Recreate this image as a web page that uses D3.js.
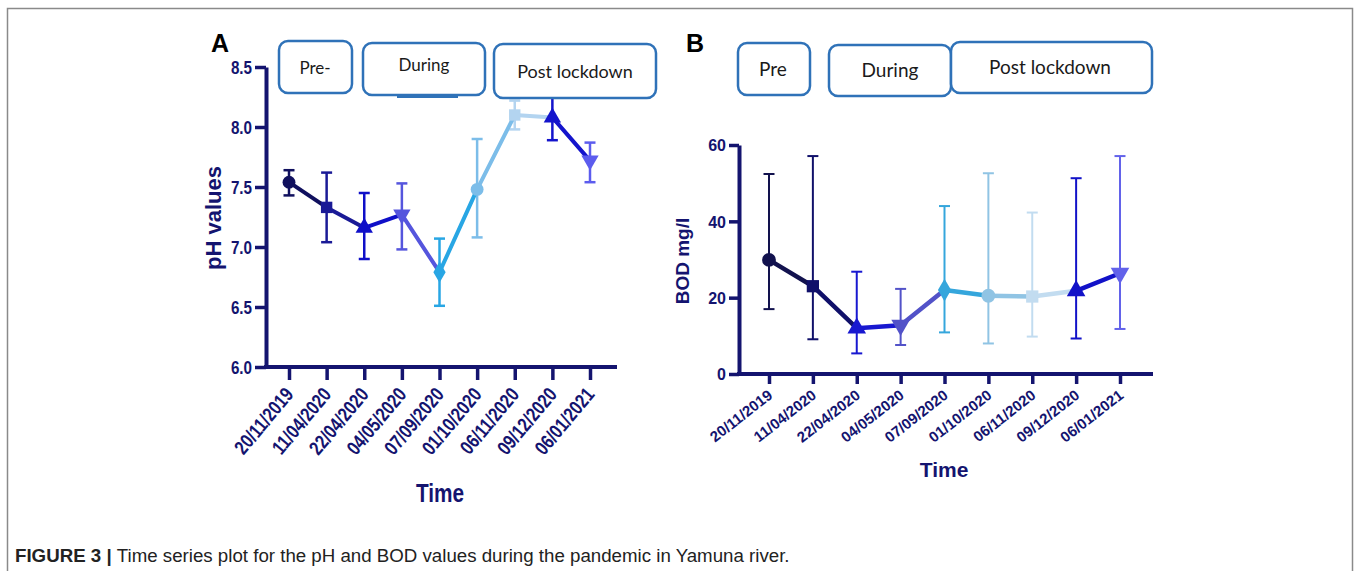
<!DOCTYPE html>
<html>
<head>
<meta charset="utf-8">
<script src="https://cdn.jsdelivr.net/npm/d3@7"></script>
<style>
  body { margin: 0; background: #fff; }
  svg { display: block; }
</style>
</head>
<body>
<div id="chart"></div>
<script>
// sampling dates shared by both panels
const dates = ["20/11/2019", "11/04/2020", "22/04/2020", "04/05/2020", "07/09/2020",
  "01/10/2020", "06/11/2020", "09/12/2020", "06/01/2021"];

// panel A: pH (mean with low / high error bar ends)
const phMean = [7.54, 7.33, 7.16, 7.27, 6.79, 7.48, 8.10, 8.08, 7.72];
const phLow = [7.43, 7.04, 6.90, 6.98, 6.51, 7.08, 7.98, 7.89, 7.54];
const phHigh = [7.64, 7.62, 7.45, 7.53, 7.07, 7.90, 8.22, 8.28, 7.87];
const phTicks = [6.0, 6.5, 7.0, 7.5, 8.0, 8.5];

// panel B: BOD mg/l
const bodMean = [29.9, 23.0, 12.0, 12.8, 22.0, 20.5, 20.3, 21.8, 26.4];
const bodLow = [17.0, 9.1, 5.4, 7.6, 10.9, 8.0, 9.8, 9.3, 11.8];
const bodHigh = [52.4, 57.1, 26.8, 22.3, 44.0, 52.6, 42.3, 51.3, 57.1];
const bodTicks = [0, 20, 40, 60];

const periodsA = ["Pre-", "During", "Post lockdown"];
const periodsB = ["Pre", "During", "Post lockdown"];

const symbols = ["circle", "square", "triangle", "triangle-down", "diamond",
  "circle", "square", "triangle", "triangle-down"];
const colorsA = ["#10105e", "#1a1a96", "#0f0fc8", "#5555dd", "#28a6e4", "#7cbde9", "#b3d4f0", "#1414cc", "#5c5cee"];
const colorsB = ["#12124e", "#10106a", "#1818d0", "#5252c8", "#35a6dc", "#90c4e4", "#c2dcf0", "#1212c8", "#6262ea"];

const W = 1355, H = 571;
const axisColor = "#14146f";
const boxColor = "#2f72b8";

const svg = d3.select("#chart").append("svg")
  .attr("width", W)
  .attr("height", H)
  .attr("viewBox", `0 0 ${W} ${H}`);

// figure frame
svg.append("rect")
  .attr("x", 7.5).attr("y", 8.5)
  .attr("width", 1345).attr("height", 620)
  .attr("fill", "none")
  .attr("stroke", "#8a8a8a")
  .attr("stroke-width", 1.5);

const symbolType = {
  "circle": d3.symbolCircle,
  "square": d3.symbolSquare,
  "triangle": d3.symbolTriangle,
  "triangle-down": d3.symbolTriangle,
  "diamond": d3.symbolDiamond
};

function drawPanel(p) {
  const g = svg.append("g");
  const x = d3.scalePoint().domain(dates).range(p.xRange);
  const y = d3.scaleLinear().domain(p.yDomain).range(p.yRange);
  const narrow = p.narrow;

  // y axis
  const yAxis = g.append("g")
    .attr("transform", `translate(${p.axisX},0)`)
    .call(d3.axisLeft(y)
      .tickValues(p.ticks)
      .tickFormat(p.fmt)
      .tickSize(p.yTickLen)
      .tickSizeOuter(0));
  yAxis.select(".domain")
    .attr("stroke", axisColor)
    .attr("stroke-width", p.axisW);
  yAxis.selectAll(".tick line")
    .attr("stroke", axisColor)
    .attr("stroke-width", p.tickW);
  yAxis.selectAll(".tick text")
    .attr("x", 0).attr("dy", "0.36em")
    .attr("transform", `translate(${-p.yTickLen - 3},0) scale(${narrow},1)`)
    .attr("fill", axisColor)
    .style("font-family", "'Liberation Sans', Arial, sans-serif")
    .style("font-weight", "bold")
    .style("font-size", p.yTickFont + "px");

  // x axis
  const xAxis = g.append("g")
    .attr("transform", `translate(0,${p.axisY})`)
    .call(d3.axisBottom(x).tickSize(p.xTickLen).tickSizeOuter(0));
  xAxis.select(".domain").remove();
  xAxis.selectAll(".tick line")
    .attr("stroke", axisColor)
    .attr("stroke-width", p.tickW);
  xAxis.selectAll(".tick text")
    .attr("x", 0).attr("y", 0).attr("dy", 0)
    .attr("text-anchor", "end")
    .attr("transform", `translate(${p.labelDx},${p.labelDy}) rotate(${p.labelRot}) scale(${narrow},1)`)
    .attr("fill", axisColor)
    .style("font-family", "'Liberation Sans', Arial, sans-serif")
    .style("font-weight", "bold")
    .style("font-size", p.xTickFont + "px");
  g.append("line")
    .attr("x1", p.axisX - p.axisW / 2).attr("x2", p.xEnd)
    .attr("y1", p.axisY).attr("y2", p.axisY)
    .attr("stroke", axisColor)
    .attr("stroke-width", p.axisW);

  // axis titles
  g.append("text")
    .attr("transform", `translate(${p.yTitle[0]},${p.yTitle[1]}) rotate(-90)`)
    .attr("text-anchor", "middle")
    .attr("fill", axisColor)
    .style("font-family", "'Liberation Sans', Arial, sans-serif")
    .style("font-weight", "bold")
    .style("font-size", p.yTitleFont + "px")
    .text(p.yLabel);
  g.append("text")
    .attr("transform", `translate(${p.xTitle[0]},${p.xTitle[1]}) scale(${narrow},1)`)
    .attr("text-anchor", "middle")
    .attr("fill", axisColor)
    .style("font-family", "'Liberation Sans', Arial, sans-serif")
    .style("font-weight", "bold")
    .style("font-size", p.xTitleFont + "px")
    .text("Time");

  // error bars
  const eb = g.append("g").selectAll("g")
    .data(dates)
    .enter()
    .append("g")
    .attr("stroke", (d, i) => p.colors[i])
    .attr("stroke-width", p.errW);
  eb.append("line")
    .attr("x1", d => x(d)).attr("x2", d => x(d))
    .attr("y1", (d, i) => y(p.low[i]))
    .attr("y2", (d, i) => y(p.high[i]));
  eb.append("line")
    .attr("x1", d => x(d) - p.cap).attr("x2", d => x(d) + p.cap)
    .attr("y1", (d, i) => y(p.high[i]))
    .attr("y2", (d, i) => y(p.high[i]));
  eb.append("line")
    .attr("x1", d => x(d) - p.cap).attr("x2", d => x(d) + p.cap)
    .attr("y1", (d, i) => y(p.low[i]))
    .attr("y2", (d, i) => y(p.low[i]));

  // connecting segments, coloured by the starting point
  g.append("g").selectAll("line")
    .data(dates.slice(0, -1))
    .enter()
    .append("line")
    .attr("x1", d => x(d))
    .attr("y1", (d, i) => y(p.mean[i]))
    .attr("x2", (d, i) => x(dates[i + 1]))
    .attr("y2", (d, i) => y(p.mean[i + 1]))
    .attr("stroke", (d, i) => p.colors[i])
    .attr("stroke-width", p.lineW)
    .attr("stroke-linecap", "round");

  // markers
  g.append("g").selectAll("path")
    .data(dates)
    .enter()
    .append("path")
    .attr("d", (d, i) => d3.symbol().type(symbolType[symbols[i]]).size(p.markSize)())
    .attr("transform", (d, i) => `translate(${x(d)},${y(p.mean[i])})` +
      (symbols[i] === "triangle-down" ? " rotate(180)" : ""))
    .attr("fill", (d, i) => p.colors[i]);

  // panel letter
  g.append("text")
    .attr("x", p.letter[0]).attr("y", p.letter[1])
    .attr("fill", "#000")
    .style("font-family", "'Liberation Sans', Arial, sans-serif")
    .style("font-weight", "bold")
    .style("font-size", "25px")
    .text(p.letterText);

  // lockdown period boxes (drawn over the plot)
  const boxes = g.append("g").selectAll("g")
    .data(p.boxes)
    .enter()
    .append("g");
  boxes.append("rect")
    .attr("x", d => d.x).attr("y", d => d.y)
    .attr("width", d => d.w).attr("height", d => d.h)
    .attr("rx", 9).attr("ry", 9)
    .attr("fill", "#fff")
    .attr("stroke", boxColor)
    .attr("stroke-width", 2.5);
  boxes.append("text")
    .attr("x", d => d.tx).attr("y", d => d.ty)
    .attr("text-anchor", "middle")
    .attr("fill", "#1a1a1a")
    .style("font-family", "Lato, 'Open Sans', sans-serif")
    .style("font-size", d => d.fs + "px")
    .text((d, i) => p.periods[i]);
}

drawPanel({
  letterText: "A", letter: [211, 52],
  mean: phMean, low: phLow, high: phHigh, colors: colorsA,
  ticks: phTicks, fmt: d3.format(".1f"),
  yDomain: [6, 8.5], yRange: [367, 67],
  xRange: [289, 590], axisX: 266, axisY: 367, xEnd: 617,
  axisW: 4, tickW: 3.5, yTickLen: 11, xTickLen: 13,
  narrow: 0.8, yTickFont: 19, xTickFont: 20,
  labelDx: 5, labelDy: 28, labelRot: -50,
  yLabel: "pH values", yTitle: [221, 218], yTitleFont: 22,
  xTitle: [440, 502], xTitleFont: 26,
  errW: 2.5, cap: 5.5, lineW: 4, markSize: 130,
  periods: periodsA,
  boxes: [
    { x: 279, y: 41, w: 73, h: 52, fs: 17, tx: 315, ty: 74 },
    { x: 363, y: 43, w: 122, h: 52, fs: 17, tx: 424, ty: 71 },
    { x: 494, y: 44, w: 162, h: 54, fs: 18, tx: 575, ty: 78 }
  ]
});

// the short blue stroke under the "During" box in panel A
svg.append("line")
  .attr("x1", 397).attr("x2", 458)
  .attr("y1", 96.5).attr("y2", 96.5)
  .attr("stroke", boxColor)
  .attr("stroke-width", 3);

drawPanel({
  letterText: "B", letter: [686, 52],
  mean: bodMean, low: bodLow, high: bodHigh, colors: colorsB,
  ticks: bodTicks, fmt: d3.format("d"),
  yDomain: [0, 60], yRange: [374, 145],
  xRange: [769, 1120], axisX: 739, axisY: 374, xEnd: 1153,
  axisW: 4, tickW: 3.5, yTickLen: 10, xTickLen: 10,
  narrow: 1, yTickFont: 16, xTickFont: 15,
  labelDx: 4, labelDy: 23, labelRot: -38,
  yLabel: "BOD mg/l", yTitle: [689, 261], yTitleFont: 19,
  xTitle: [944, 477], xTitleFont: 21,
  errW: 2, cap: 5.5, lineW: 4.5, markSize: 150,
  periods: periodsB,
  boxes: [
    { x: 738, y: 43, w: 72, h: 52, fs: 19, tx: 773, ty: 76 },
    { x: 829, y: 45, w: 122, h: 51, fs: 19, tx: 890, ty: 77 },
    { x: 951, y: 42, w: 201, h: 51, fs: 19, tx: 1050, ty: 74 }
  ]
});

// caption
const cap = svg.append("text")
  .attr("x", 15).attr("y", 562)
  .attr("fill", "#222")
  .style("font-family", "'Liberation Sans', Arial, sans-serif")
  .style("font-size", "18.7px");
cap.append("tspan")
  .style("font-weight", "bold")
  .text("FIGURE 3 | ");
cap.append("tspan")
  .text("Time series plot for the pH and BOD values during the pandemic in Yamuna river.");
</script>
</body>
</html>
